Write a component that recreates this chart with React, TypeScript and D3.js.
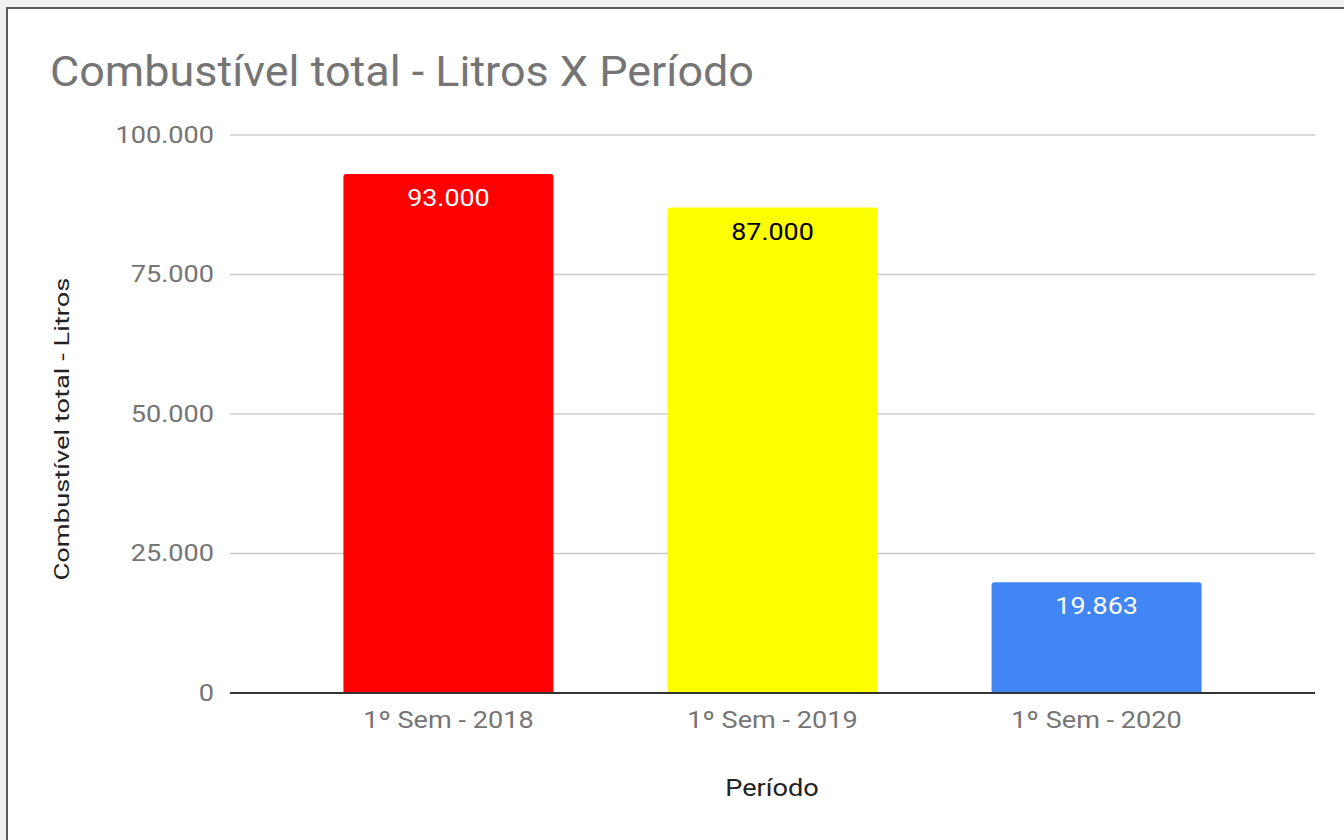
import { useEffect, useRef } from "react"
import * as d3 from "d3"

const periods = ["1º Sem - 2018", "1º Sem - 2019", "1º Sem - 2020"]
const litros = [93000, 87000, 19863]
const barColors = ["#ff0000", "#ffff00", "#4285f4"]
const labelColors = ["#ffffff", "#000000", "#ffffff"]
const yTicks = [0, 25000, 50000, 75000, 100000]

const W = 1344
const H = 840
const fmt = (v: number) => d3.format(",")(v).replace(/,/g, ".")

const App = () => {
  const svgRef = useRef<SVGSVGElement>(null)

  useEffect(() => {
    const svg = d3.select(svgRef.current)
    svg.selectAll("*").remove()
    const font = "Roboto, 'Noto Sans', sans-serif"

    // page background and card
    svg.append("rect").attr("width", W).attr("height", H).attr("fill", "#f1f1f1")
    svg
      .append("rect")
      .attr("x", 7)
      .attr("y", 8)
      .attr("width", W + 20)
      .attr("height", H + 20)
      .attr("fill", "#ffffff")
      .attr("stroke", "#5a5a5a")
      .attr("stroke-width", 2)

    const left = 230
    const right = 1315
    const top = 135
    const bottom = 693

    const x = d3
      .scaleBand()
      .domain(periods)
      .range([left, right])
      .paddingInner(0.352)
      .paddingOuter(0.35)

    const y = d3.scaleLinear().domain([0, 100000]).range([bottom, top])

    // the screenshot's text is a little wider than plain Roboto
    svg
      .append("text")
      .attr("transform", "translate(50,86) scale(1.07,1)")
      .attr("font-family", font)
      .attr("font-size", 42)
      .attr("fill", "#757575")
      .text("Combustível total - Litros X Período")

    // gridlines
    svg
      .append("g")
      .selectAll("line")
      .data(yTicks.filter((t) => t > 0))
      .join("line")
      .attr("x1", left)
      .attr("x2", right)
      .attr("y1", (d) => y(d))
      .attr("y2", (d) => y(d))
      .attr("stroke", "#cccccc")
      .attr("stroke-width", 1.5)

    svg
      .append("g")
      .selectAll("text")
      .data(yTicks)
      .join("text")
      .attr("transform", (d) => `translate(214,${y(d) + 7.5}) scale(1.13,1)`)
      .attr("text-anchor", "end")
      .attr("font-family", font)
      .attr("font-size", 24)
      .attr("fill", "#757575")
      .text((d) => fmt(d))

    // bars, square bottom with slightly rounded top
    const r = 3
    svg
      .append("g")
      .selectAll("path")
      .data(litros)
      .join("path")
      .attr("d", (d, i) => {
        const x0 = x(periods[i])!
        const x1 = x0 + x.bandwidth()
        const y0 = y(d)
        const path = d3.path()
        path.moveTo(x0, bottom)
        path.lineTo(x0, y0 + r)
        path.quadraticCurveTo(x0, y0, x0 + r, y0)
        path.lineTo(x1 - r, y0)
        path.quadraticCurveTo(x1, y0, x1, y0 + r)
        path.lineTo(x1, bottom)
        path.closePath()
        return path.toString()
      })
      .attr("fill", (_, i) => barColors[i])

    svg
      .append("g")
      .selectAll("text")
      .data(litros)
      .join("text")
      .attr(
        "transform",
        (d, i) =>
          `translate(${x(periods[i])! + x.bandwidth() / 2},${y(d) + 32}) scale(1.12,1)`
      )
      .attr("text-anchor", "middle")
      .attr("font-family", font)
      .attr("font-size", 24)
      .attr("fill", (_, i) => labelColors[i])
      .text((d) => fmt(d))

    // baseline
    svg
      .append("line")
      .attr("x1", left)
      .attr("x2", right)
      .attr("y1", bottom)
      .attr("y2", bottom)
      .attr("stroke", "#333333")
      .attr("stroke-width", 2)

    svg
      .append("g")
      .selectAll("text")
      .data(periods)
      .join("text")
      .attr(
        "transform",
        (d) => `translate(${x(d)! + x.bandwidth() / 2},728) scale(1.13,1)`
      )
      .attr("text-anchor", "middle")
      .attr("font-family", font)
      .attr("font-size", 24)
      .attr("fill", "#757575")
      .text((d) => d)

    svg
      .append("text")
      .attr("transform", "translate(772,796) scale(1.18,1)")
      .attr("text-anchor", "middle")
      .attr("font-family", font)
      .attr("font-size", 23)
      .attr("fill", "#222222")
      .text("Período")

    svg
      .append("text")
      .attr("transform", "translate(69,429) rotate(-90) scale(1.3,1)")
      .attr("text-anchor", "middle")
      .attr("font-family", font)
      .attr("font-size", 21)
      .attr("fill", "#222222")
      .text("Combustível total - Litros")
  }, [])

  return (
    <svg
      ref={svgRef}
      width={W}
      height={H}
      style={{ position: "fixed", left: 0, top: 0, display: "block" }}
    ></svg>
  )
}

export default App
